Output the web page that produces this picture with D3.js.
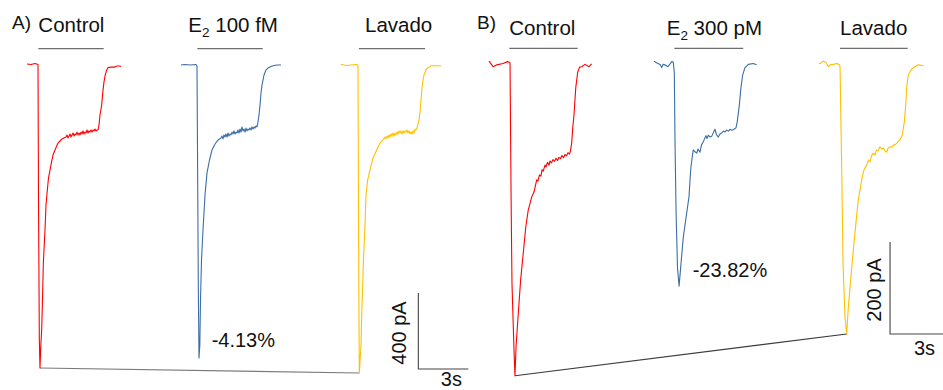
<!DOCTYPE html>
<html>
<head>
<meta charset="utf-8">
<script src="https://cdn.jsdelivr.net/npm/d3@7"></script>
<style>
  body { margin: 0; background: #fff; }
  svg { display: block; font-family: "Liberation Sans", Arial, sans-serif; }
</style>
</head>
<body>
<div id="chart"></div>
<script>
// whole-cell current sweeps: [time from sweep start (s), current (pA)]
const ctrlA = [[0,5],[0.24,3],[0.48,8],[0.66,3],[0.69,-711],[0.74,-1447],[0.78,-1595],[0.83,-1474],[0.88,-1395],[0.93,-1237],[0.98,-1042],[1.08,-868],[1.14,-737],[1.22,-658],[1.29,-595],[1.38,-553],[1.47,-511],[1.56,-474],[1.68,-447],[1.86,-411],[1.98,-400],[2.10,-389],[2.22,-384],[2.34,-379],[2.40,-368],[2.46,-384],[2.52,-374],[2.58,-363],[2.64,-379],[2.70,-368],[2.76,-358],[2.82,-374],[2.88,-363],[2.94,-368],[3.00,-353],[3.06,-368],[3.12,-358],[3.18,-368],[3.24,-353],[3.30,-363],[3.36,-347],[3.42,-363],[3.48,-353],[3.54,-358],[3.60,-342],[3.66,-358],[3.72,-347],[3.78,-353],[3.84,-342],[3.90,-353],[3.96,-342],[4.02,-347],[4.08,-337],[4.14,-347],[4.20,-342],[4.26,-342],[4.32,-316],[4.38,-263],[4.48,-211],[4.56,-132],[4.62,-89],[4.68,-58],[4.78,-26],[4.86,-14],[5.04,-11],[5.28,-11],[5.40,-5],[5.52,-5],[5.64,-8]];
const e2A = [[0,0],[0.24,3],[0.54,0],[0.90,3],[0.96,-5],[0.99,-447],[1.04,-1184],[1.08,-1542],[1.13,-1474],[1.17,-1237],[1.23,-1026],[1.32,-868],[1.44,-684],[1.56,-568],[1.71,-500],[1.86,-447],[2.04,-416],[2.22,-395],[2.40,-384],[2.46,-374],[2.52,-389],[2.58,-368],[2.64,-379],[2.70,-363],[2.76,-379],[2.82,-358],[2.88,-374],[2.94,-363],[3.00,-368],[3.06,-353],[3.12,-363],[3.18,-347],[3.24,-363],[3.30,-353],[3.36,-358],[3.42,-342],[3.48,-358],[3.54,-337],[3.60,-353],[3.66,-326],[3.72,-347],[3.78,-337],[3.84,-353],[3.90,-332],[3.96,-347],[4.02,-337],[4.08,-342],[4.14,-332],[4.20,-342],[4.26,-326],[4.32,-337],[4.38,-326],[4.44,-332],[4.50,-321],[4.56,-326],[4.62,-300],[4.68,-263],[4.74,-211],[4.80,-147],[4.86,-105],[4.98,-53],[5.10,-26],[5.22,-16],[5.40,-8],[5.58,-3],[5.76,0],[6.00,0]];
const washA = [[0,4],[0.18,0],[0.36,-3],[0.60,0],[0.96,3],[1.02,-5],[1.04,-526],[1.07,-1210],[1.10,-1621],[1.20,-1474],[1.24,-1326],[1.34,-1042],[1.44,-842],[1.50,-684],[1.60,-605],[1.78,-537],[1.92,-489],[2.14,-447],[2.34,-411],[2.52,-395],[2.64,-379],[2.70,-389],[2.76,-374],[2.82,-384],[2.88,-368],[2.94,-379],[3.00,-363],[3.06,-374],[3.12,-358],[3.18,-374],[3.24,-358],[3.30,-368],[3.36,-353],[3.42,-363],[3.48,-347],[3.54,-358],[3.60,-347],[3.66,-363],[3.72,-347],[3.78,-358],[3.84,-347],[3.90,-353],[3.96,-342],[4.02,-358],[4.08,-347],[4.14,-363],[4.20,-353],[4.26,-363],[4.32,-347],[4.38,-358],[4.44,-337],[4.50,-342],[4.56,-332],[4.68,-289],[4.74,-247],[4.80,-184],[4.86,-121],[4.92,-79],[4.98,-53],[5.10,-26],[5.22,-14],[5.40,-5],[5.64,-4],[5.82,-4],[6.00,-5]];

const ctrlB = [[0,4],[0.23,-8],[0.45,-4],[0.79,-1],[1.06,3],[1.13,2],[1.19,0],[1.25,-291],[1.30,-478],[1.38,-580],[1.43,-641],[1.47,-680],[1.53,-617],[1.66,-543],[1.79,-472],[1.94,-413],[2.08,-357],[2.22,-320],[2.42,-291],[2.55,-280],[2.70,-254],[2.77,-257],[2.86,-243],[2.94,-246],[3.00,-232],[3.07,-235],[3.17,-222],[3.23,-226],[3.31,-216],[3.40,-222],[3.45,-213],[3.54,-217],[3.62,-210],[3.71,-214],[3.79,-207],[3.88,-212],[3.96,-205],[4.05,-208],[4.13,-201],[4.22,-206],[4.30,-199],[4.39,-202],[4.47,-195],[4.56,-198],[4.61,-191],[4.68,-174],[4.74,-141],[4.81,-113],[4.91,-54],[5.02,-20],[5.13,-9],[5.25,-8],[5.43,-3],[5.66,-8],[5.81,-2]];
const e2B = [[0,4],[0.17,0],[0.34,-3],[0.44,-10],[0.51,-3],[0.62,-4],[0.79,-8],[0.91,-2],[1.00,3],[1.09,2],[1.15,-22],[1.19,-174],[1.25,-326],[1.33,-446],[1.42,-485],[1.53,-435],[1.66,-378],[1.85,-326],[1.98,-291],[2.04,-254],[2.09,-226],[2.18,-200],[2.22,-189],[2.32,-193],[2.42,-196],[2.49,-187],[2.60,-194],[2.69,-178],[2.79,-171],[2.86,-165],[2.94,-158],[3.00,-164],[3.07,-157],[3.17,-161],[3.27,-159],[3.34,-153],[3.45,-144],[3.54,-156],[3.64,-161],[3.74,-154],[3.83,-152],[3.93,-148],[4.02,-150],[4.11,-146],[4.22,-148],[4.30,-144],[4.39,-146],[4.49,-145],[4.56,-143],[4.64,-141],[4.71,-128],[4.83,-91],[4.92,-54],[5.02,-26],[5.15,-10],[5.34,-3],[5.62,-1],[5.81,-4]];
const washB = [[0,-1],[0.06,-1],[0.24,4],[0.38,2],[0.53,-8],[0.62,-4],[0.81,-3],[1.00,-1],[1.13,-3],[1.19,-7],[1.26,-174],[1.28,-217],[1.36,-435],[1.47,-552],[1.57,-589],[1.66,-530],[1.79,-472],[1.94,-407],[2.09,-348],[2.22,-298],[2.42,-254],[2.52,-235],[2.60,-228],[2.70,-222],[2.79,-211],[2.89,-215],[2.97,-202],[3.07,-196],[3.17,-200],[3.25,-189],[3.34,-191],[3.45,-182],[3.54,-187],[3.64,-185],[3.74,-191],[3.83,-194],[3.91,-185],[4.02,-182],[4.13,-183],[4.22,-178],[4.30,-178],[4.41,-174],[4.49,-170],[4.58,-167],[4.71,-157],[4.83,-128],[4.91,-91],[4.96,-55],[5.05,-26],[5.25,-13],[5.43,-8],[5.62,-4],[5.90,-6]];

// application bars [start, end] in s from sweep start
const pulsesA = [[0.68, 4.60], [0.98, 4.90], [1.08, 5.04]];
const pulsesB = [[1.15, 5.02], [1.15, 5.05], [1.19, 5.02]];

const conditions = ['Control', 'E2', 'Lavado'];
const doses = ['100 fM', '300 pM'];
const changes = ['-4.13%', '-23.82%'];
const scaleCurrent = [400, 200]; // pA
const scaleTime = [3, 3];        // s

const colors = ['#ff0000', '#3b6ea5', '#ffc000'];

const panels = [
  {
    label: 'A)', sweeps: [ctrlA, e2A, washA], pulses: pulsesA,
    x: d3.scaleLinear().domain([0, 3]).range([27, 77]),
    y: d3.scaleLinear().domain([0, -400]).range([65, 141]),
    offsets: [0, 9.24, 18.84], titleAt: [0.68, 0.44, 1.44],
    labelPos: [12, 29], titleY: 32, pulseY: 48.7,
    changeAt: [11.08, -1483], barAt: [23.48, -1600], barLabelDx: -12,
    connector: '#7a7a7a'
  },
  {
    label: 'B)', sweeps: [ctrlB, e2B, washB], pulses: pulsesB,
    x: d3.scaleLinear().domain([0, 3]).range([489, 542]),
    y: d3.scaleLinear().domain([0, -200]).range([63, 155]),
    offsets: [0, 9.34, 18.68], titleAt: [1.15, 0.72, 1.19],
    labelPos: [477, 29], titleY: 35, pulseY: 48.3,
    changeAt: [11.53, -465], barAt: [22.70, -589], barLabelDx: -9,
    connector: '#3a3a3a'
  }
];

const width = 943, height = 390;
const svg = d3.select('#chart').append('svg')
  .attr('width', width)
  .attr('height', height)
  .attr('viewBox', [0, 0, width, height]);

panels.forEach((p, pi) => {
  const g = svg.append('g');
  const { x, y } = p;

  // line joining the peak of control and wash-out sweeps
  const first = d3.least(p.sweeps[0], d => d[1]);
  const last = d3.least(p.sweeps[2], d => d[1]);
  g.append('line')
    .attr('x1', x(p.offsets[0] + first[0])).attr('y1', y(first[1]))
    .attr('x2', x(p.offsets[2] + last[0])).attr('y2', y(last[1]))
    .attr('stroke', p.connector).attr('stroke-width', 1.1);

  // sweeps
  p.sweeps.forEach((s, i) => {
    const line = d3.line()
      .x(d => x(p.offsets[i] + d[0]))
      .y(d => y(d[1]));
    g.append('path')
      .attr('d', line(s))
      .attr('fill', 'none')
      .attr('stroke', colors[i])
      .attr('stroke-width', 1.1)
      .attr('stroke-linejoin', 'round');

    // application bar
    g.append('line')
      .attr('x1', x(p.offsets[i] + p.pulses[i][0]))
      .attr('x2', x(p.offsets[i] + p.pulses[i][1]))
      .attr('y1', p.pulseY).attr('y2', p.pulseY)
      .attr('stroke', '#6e6e6e').attr('stroke-width', 1.3);

    // condition title
    const t = g.append('text')
      .attr('x', x(p.offsets[i] + p.titleAt[i]))
      .attr('y', p.titleY)
      .attr('font-size', 20.5)
      .attr('fill', '#111');
    if (conditions[i] === 'E2') {
      t.append('tspan').text('E');
      t.append('tspan').attr('font-size', 13.5).attr('dy', 5).text('2');
      t.append('tspan').attr('dy', -5).text('\u00a0' + doses[pi]);
    } else {
      t.text(conditions[i]);
    }
  });

  // panel letter
  g.append('text')
    .attr('x', p.labelPos[0]).attr('y', p.labelPos[1])
    .attr('font-size', 19).attr('fill', '#111')
    .text(p.label);

  // percent change
  g.append('text')
    .attr('x', x(p.changeAt[0])).attr('y', y(p.changeAt[1]))
    .attr('font-size', 20).attr('fill', '#111')
    .text(changes[pi]);

  // scale bar
  const bx0 = x(p.barAt[0]), bx1 = x(p.barAt[0] + scaleTime[pi]);
  const by0 = y(p.barAt[1]), by1 = y(p.barAt[1] + scaleCurrent[pi]);
  g.append('path')
    .attr('d', `M${bx0},${by1}V${by0}H${bx1}`)
    .attr('fill', 'none').attr('stroke', '#444').attr('stroke-width', 1.1);
  g.append('text')
    .attr('transform', `translate(${bx0 + p.barLabelDx},${(by0 + by1) / 2 + 2})rotate(-90)`)
    .attr('text-anchor', 'middle')
    .attr('font-size', 20).attr('fill', '#111')
    .text(`${scaleCurrent[pi]} pA`);
  // keep the time label inside the picture
  g.append('text')
    .attr('x', (bx0 + bx1) / 2 + 8).attr('y', Math.min(by0 + 21.5, height - 4.5))
    .attr('text-anchor', 'middle')
    .attr('font-size', 20).attr('fill', '#111')
    .text(`${scaleTime[pi]}s`);
});
</script>
</body>
</html>
